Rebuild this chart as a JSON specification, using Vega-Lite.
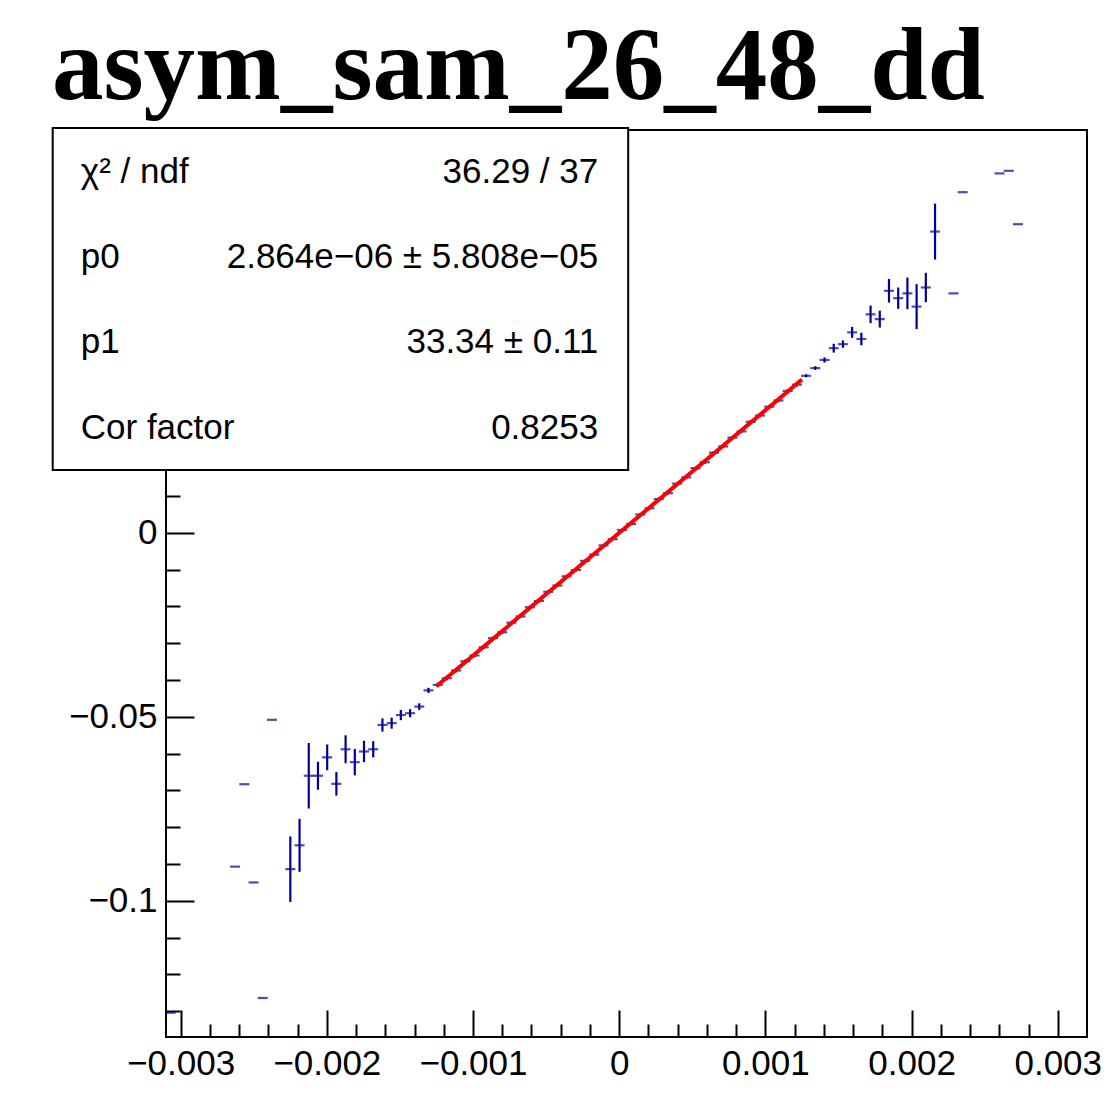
{
  "$schema": "https://vega.github.io/schema/vega-lite/v6.json",
  "width": 921,
  "height": 907,
  "autosize": {"type": "none"},
  "padding": {"left": 166, "top": 130, "right": 20, "bottom": 60},
  "background": "white",
  "config": {
    "view": {"stroke": "black", "strokeWidth": 2},
    "axis": {"grid": false, "domain": false, "labelFont": "Liberation Sans", "labelFontSize": 35, "labelColor": "black", "tickColor": "black", "tickWidth": 2}
  },
  "title": {"text": "asym_sam_26_48_dd", "anchor": "start", "frame": "group", "dx": -114, "dy": 105, "offset": 30, "baseline": "alphabetic", "font": "Liberation Serif", "fontWeight": "bold", "fontSize": 103, "color": "black"},
  "datasets": {
    "pts": [
      {"x": -0.0030685, "y": -0.1304, "ey": 0},
      {"x": -0.0026275, "y": -0.0907, "ey": 0},
      {"x": -0.0025645, "y": -0.0683, "ey": 0},
      {"x": -0.0025015, "y": -0.0950, "ey": 0},
      {"x": -0.0024385, "y": -0.1264, "ey": 0},
      {"x": -0.0023755, "y": -0.0508, "ey": 0},
      {"x": -0.0022495, "y": -0.0914, "ey": 0.0089},
      {"x": -0.0021865, "y": -0.0849, "ey": 0.0072},
      {"x": -0.0021235, "y": -0.0660, "ey": 0.0089},
      {"x": -0.0020605, "y": -0.0660, "ey": 0.0038},
      {"x": -0.0019975, "y": -0.0610, "ey": 0.0035},
      {"x": -0.0019345, "y": -0.0682, "ey": 0.0032},
      {"x": -0.0018715, "y": -0.0588, "ey": 0.0038},
      {"x": -0.0018085, "y": -0.0623, "ey": 0.0036},
      {"x": -0.0017455, "y": -0.0594, "ey": 0.0029},
      {"x": -0.0016825, "y": -0.0588, "ey": 0.0022},
      {"x": -0.0016195, "y": -0.0522, "ey": 0.0018},
      {"x": -0.0015565, "y": -0.0517, "ey": 0.0015},
      {"x": -0.0014935, "y": -0.0495, "ey": 0.0014},
      {"x": -0.0014305, "y": -0.0490, "ey": 0.0011},
      {"x": -0.0013675, "y": -0.0472, "ey": 0.0009},
      {"x": -0.0013045, "y": -0.0428, "ey": 0.0007},
      {"x": -0.0012415, "y": -0.0413, "ey": 0.0006},
      {"x": -0.0011785, "y": -0.0395, "ey": 0.0005},
      {"x": -0.0011155, "y": -0.0374, "ey": 0.0005},
      {"x": -0.0010525, "y": -0.0349, "ey": 0.0005},
      {"x": -0.0009895, "y": -0.0333, "ey": 0.0005},
      {"x": -0.0009265, "y": -0.0311, "ey": 0.0004},
      {"x": -0.0008635, "y": -0.0286, "ey": 0.0004},
      {"x": -0.0008005, "y": -0.0270, "ey": 0.0004},
      {"x": -0.0007375, "y": -0.0244, "ey": 0.0004},
      {"x": -0.0006745, "y": -0.0227, "ey": 0.0004},
      {"x": -0.0006115, "y": -0.0202, "ey": 0.0004},
      {"x": -0.0005485, "y": -0.0185, "ey": 0.0004},
      {"x": -0.0004855, "y": -0.0160, "ey": 0.0004},
      {"x": -0.0004225, "y": -0.0143, "ey": 0.0004},
      {"x": -0.0003595, "y": -0.0118, "ey": 0.0004},
      {"x": -0.0002965, "y": -0.0101, "ey": 0.0004},
      {"x": -0.0002335, "y": -0.0076, "ey": 0.0003},
      {"x": -0.0001705, "y": -0.0059, "ey": 0.0003},
      {"x": -0.0001075, "y": -0.0034, "ey": 0.0003},
      {"x": -0.0000445, "y": -0.0017, "ey": 0.0003},
      {"x": 0.0000185, "y": 0.0008, "ey": 0.0003},
      {"x": 0.0000815, "y": 0.0024, "ey": 0.0003},
      {"x": 0.0001445, "y": 0.0050, "ey": 0.0003},
      {"x": 0.0002075, "y": 0.0067, "ey": 0.0003},
      {"x": 0.0002705, "y": 0.0092, "ey": 0.0004},
      {"x": 0.0003335, "y": 0.0108, "ey": 0.0004},
      {"x": 0.0003965, "y": 0.0134, "ey": 0.0004},
      {"x": 0.0004595, "y": 0.0151, "ey": 0.0004},
      {"x": 0.0005225, "y": 0.0176, "ey": 0.0004},
      {"x": 0.0005855, "y": 0.0192, "ey": 0.0004},
      {"x": 0.0006485, "y": 0.0218, "ey": 0.0004},
      {"x": 0.0007115, "y": 0.0235, "ey": 0.0004},
      {"x": 0.0007745, "y": 0.0259, "ey": 0.0004},
      {"x": 0.0008375, "y": 0.0276, "ey": 0.0004},
      {"x": 0.0009005, "y": 0.0302, "ey": 0.0005},
      {"x": 0.0009635, "y": 0.0319, "ey": 0.0005},
      {"x": 0.0010265, "y": 0.0343, "ey": 0.0005},
      {"x": 0.0010895, "y": 0.0360, "ey": 0.0005},
      {"x": 0.0011525, "y": 0.0386, "ey": 0.0005},
      {"x": 0.0012155, "y": 0.0403, "ey": 0.0005},
      {"x": 0.0012785, "y": 0.0427, "ey": 0.0004},
      {"x": 0.0013415, "y": 0.0448, "ey": 0.0005},
      {"x": 0.0014045, "y": 0.0470, "ey": 0.0007},
      {"x": 0.0014675, "y": 0.0502, "ey": 0.0012},
      {"x": 0.0015305, "y": 0.0513, "ey": 0.0010},
      {"x": 0.0015935, "y": 0.0545, "ey": 0.0015},
      {"x": 0.0016565, "y": 0.0527, "ey": 0.0017},
      {"x": 0.0017195, "y": 0.0594, "ey": 0.0024},
      {"x": 0.0017825, "y": 0.0581, "ey": 0.0023},
      {"x": 0.0018455, "y": 0.0658, "ey": 0.0032},
      {"x": 0.0019085, "y": 0.0638, "ey": 0.0029},
      {"x": 0.0019715, "y": 0.0651, "ey": 0.0043},
      {"x": 0.0020345, "y": 0.0615, "ey": 0.0061},
      {"x": 0.0020975, "y": 0.0667, "ey": 0.0040},
      {"x": 0.0021605, "y": 0.0819, "ey": 0.0076},
      {"x": 0.0022865, "y": 0.0651, "ey": 0},
      {"x": 0.0023495, "y": 0.0926, "ey": 0},
      {"x": 0.0026015, "y": 0.0977, "ey": 0},
      {"x": 0.0026645, "y": 0.0984, "ey": 0},
      {"x": 0.0027275, "y": 0.0839, "ey": 0}
    ],
    "fit": [
      {"x": -0.00125, "y": -0.0416721},
      {"x": 0.00125, "y": 0.0416779}
    ]
  },
  "layer": [
    {
      "data": {"name": "pts"},
      "mark": {"type": "errorbar", "color": "#000099", "thickness": 2.2},
      "encoding": {
        "x": {"field": "x", "type": "quantitative", "title": null,
              "scale": {"domain": [-0.0031, 0.0032], "nice": false, "zero": false},
              "axis": {"orient": "bottom", "values": [-0.003, -0.002, -0.001, 0, 0.001, 0.002, 0.003], "format": ".3~f", "tickSize": -27, "labelPadding": 36}},
        "y": {"field": "y", "type": "quantitative", "title": null,
              "scale": {"domain": [-0.137, 0.1095], "nice": false, "zero": false},
              "axis": {"orient": "left", "values": [-0.1, -0.05, 0], "format": ".2~f", "tickSize": -28, "labelPadding": 37}},
        "yError": {"field": "ey"}
      }
    },
    {
      "data": {"name": "pts"},
      "mark": {"type": "tick", "orient": "horizontal", "color": "#000099", "size": 10, "thickness": 2.2},
      "encoding": {
        "x": {"field": "x", "type": "quantitative", "title": null,
              "axis": {"orient": "bottom", "values": [-0.0028, -0.0026, -0.0024, -0.0022, -0.0018, -0.0016, -0.0014, -0.0012, -0.0008, -0.0006, -0.0004, -0.0002, 0.0002, 0.0004, 0.0006, 0.0008, 0.0012, 0.0014, 0.0016, 0.0018, 0.0022, 0.0024, 0.0026, 0.0028], "labels": false, "tickSize": -13}},
        "y": {"field": "y", "type": "quantitative", "title": null,
              "axis": {"orient": "left", "values": [-0.13, -0.12, -0.11, -0.09, -0.08, -0.07, -0.06, -0.04, -0.03, -0.02, -0.01, 0.01, 0.02], "labels": false, "tickSize": -14}}
      }
    },
    {
      "data": {"name": "fit"},
      "mark": {"type": "line", "color": "#ff0000", "strokeWidth": 4},
      "encoding": {
        "x": {"field": "x", "type": "quantitative", "axis": null},
        "y": {"field": "y", "type": "quantitative", "axis": null}
      }
    },
    {
      "data": {"values": [{}]},
      "mark": {"type": "rect", "fill": "white", "stroke": "black", "strokeWidth": 2},
      "encoding": {
        "x": {"datum": -0.003875, "type": "quantitative", "axis": null},
        "x2": {"datum": 0.0000615},
        "y": {"datum": 0.11005, "type": "quantitative", "axis": null},
        "y2": {"datum": 0.01712}
      }
    },
    {
      "data": {"values": [{}]},
      "mark": {"type": "text", "align": "left", "baseline": "middle", "font": "Liberation Sans", "fontSize": 35, "color": "black"},
      "encoding": {"x": {"datum": -0.003683, "type": "quantitative", "axis": null}, "y": {"datum": 0.0981, "type": "quantitative", "axis": null}, "text": {"value": "χ² / ndf"}}
    },
    {
      "data": {"values": [{}]},
      "mark": {"type": "text", "align": "right", "baseline": "middle", "font": "Liberation Sans", "fontSize": 35, "color": "black"},
      "encoding": {"x": {"datum": -0.0001435, "type": "quantitative", "axis": null}, "y": {"datum": 0.0981, "type": "quantitative", "axis": null}, "text": {"value": "36.29 / 37"}}
    },
    {
      "data": {"values": [{}]},
      "mark": {"type": "text", "align": "left", "baseline": "middle", "font": "Liberation Sans", "fontSize": 35, "color": "black"},
      "encoding": {"x": {"datum": -0.003683, "type": "quantitative", "axis": null}, "y": {"datum": 0.0750, "type": "quantitative", "axis": null}, "text": {"value": "p0"}}
    },
    {
      "data": {"values": [{}]},
      "mark": {"type": "text", "align": "right", "baseline": "middle", "font": "Liberation Sans", "fontSize": 35, "color": "black"},
      "encoding": {"x": {"datum": -0.0001435, "type": "quantitative", "axis": null}, "y": {"datum": 0.0750, "type": "quantitative", "axis": null}, "text": {"value": "2.864e−06 ± 5.808e−05"}}
    },
    {
      "data": {"values": [{}]},
      "mark": {"type": "text", "align": "left", "baseline": "middle", "font": "Liberation Sans", "fontSize": 35, "color": "black"},
      "encoding": {"x": {"datum": -0.003683, "type": "quantitative", "axis": null}, "y": {"datum": 0.0519, "type": "quantitative", "axis": null}, "text": {"value": "p1"}}
    },
    {
      "data": {"values": [{}]},
      "mark": {"type": "text", "align": "right", "baseline": "middle", "font": "Liberation Sans", "fontSize": 35, "color": "black"},
      "encoding": {"x": {"datum": -0.0001435, "type": "quantitative", "axis": null}, "y": {"datum": 0.0519, "type": "quantitative", "axis": null}, "text": {"value": "33.34 ± 0.11"}}
    },
    {
      "data": {"values": [{}]},
      "mark": {"type": "text", "align": "left", "baseline": "middle", "font": "Liberation Sans", "fontSize": 35, "color": "black"},
      "encoding": {"x": {"datum": -0.003683, "type": "quantitative", "axis": null}, "y": {"datum": 0.02853, "type": "quantitative", "axis": null}, "text": {"value": "Cor factor"}}
    },
    {
      "data": {"values": [{}]},
      "mark": {"type": "text", "align": "right", "baseline": "middle", "font": "Liberation Sans", "fontSize": 35, "color": "black"},
      "encoding": {"x": {"datum": -0.0001435, "type": "quantitative", "axis": null}, "y": {"datum": 0.02853, "type": "quantitative", "axis": null}, "text": {"value": "0.8253"}}
    }
  ],
  "resolve": {"axis": {"x": "independent", "y": "independent"}}
}
